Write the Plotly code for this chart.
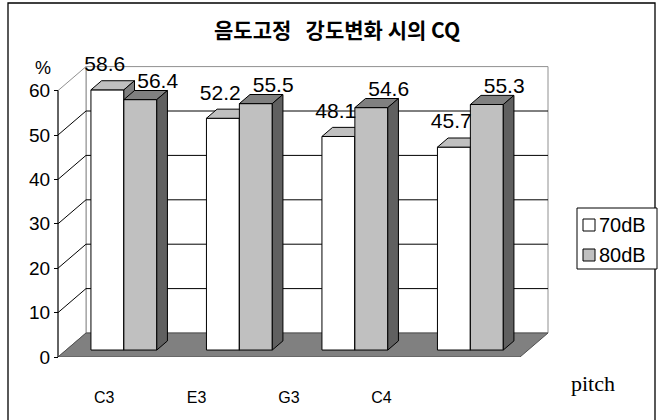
import plotly.graph_objects as go

# ---- data ----
categories = ["C3", "E3", "G3", "C4"]
series_names = ["70dB", "80dB"]
values_70 = [58.6, 52.2, 48.1, 45.7]
values_80 = [56.4, 55.5, 54.6, 55.3]
y_ticks = [0, 10, 20, 30, 40, 50, 60]
title_text = "음도고정  강도변화 시의 CQ"

# ---- geometry (pixel calibration of the pseudo-3D frame) ----
W, H = 658, 420
X0PX, CATPX = 58, 115.5      # front-left corner, px per category
Y0PX, UNITPX = 357, 4.44     # front floor, px per value unit
B = H - Y0PX                 # bottom margin


def X(px):
    return (px - X0PX) / CATPX


def Y(py):
    return (Y0PX - py) / UNITPX


def PX(px):
    return px / W


def PY(py):
    return (Y0PX - py) / Y0PX


ncat = len(categories)
ymax = max(y_ticks)
dxD, dyD = 28 / CATPX, 24 / UNITPX        # full depth vector
f0, fb = 0.29, 0.38                        # bar depth start / length
gap, bw = 0.215, 0.285                     # bar gap / width (category units)

fig = go.Figure()


def poly_trace(polys, fill, line_color, lw=1):
    xs, ys = [], []
    for p in polys:
        for (a, b) in p:
            xs.append(a)
            ys.append(b)
        xs.append(p[0][0]); ys.append(p[0][1])
        xs.append(None); ys.append(None)
    fig.add_trace(go.Scatter(x=xs, y=ys, mode="lines", fill="toself",
                             fillcolor=fill, line=dict(color=line_color, width=lw),
                             hoverinfo="skip", showlegend=False))


def line_trace(segs, color, lw=1):
    xs, ys = [], []
    for s in segs:
        for (a, b) in s:
            xs.append(a); ys.append(b)
        xs.append(None); ys.append(None)
    fig.add_trace(go.Scatter(x=xs, y=ys, mode="lines",
                             line=dict(color=color, width=lw),
                             hoverinfo="skip", showlegend=False))


# walls
poly_trace([[(dxD, dyD), (ncat + dxD, dyD), (ncat + dxD, dyD + ymax), (dxD, dyD + ymax)]],
           "white", "#909090")
poly_trace([[(0, 0), (dxD, dyD), (dxD, dyD + ymax), (0, ymax)]], "white", "#909090")
# gridlines
grid = [[(0, v), (dxD, dyD + v), (ncat + dxD, dyD + v)] for v in y_ticks[1:-1]]
line_trace(grid, "black", 1)
# floor
poly_trace([[(0, 0), (ncat, 0), (ncat + dxD, dyD), (dxD, dyD)]], "#808080", "#505050")
# front axis line
line_trace([[(0, 0), (0, ymax)]], "black", 1)

# bars
ddx, ddy = fb * dxD, fb * dyD
base = f0 * dyD
styles = [("white", "#c0c0c0", "#808080"), ("#c0c0c0", "#808080", "#606060")]
for s, vals in enumerate([values_70, values_80]):
    fronts, tops, sides = [], [], []
    for i, v in enumerate(vals):
        x0 = i + gap + s * bw + f0 * dxD
        x1 = x0 + bw
        t = v + base
        fronts.append([(x0, base), (x1, base), (x1, t), (x0, t)])
        tops.append([(x0, t), (x1, t), (x1 + ddx, t + ddy), (x0 + ddx, t + ddy)])
        sides.append([(x1, base), (x1 + ddx, base + ddy), (x1 + ddx, t + ddy), (x1, t)])
    fc, tc, sc = styles[s]
    poly_trace(fronts, fc, "black")
    poly_trace(tops, tc, "black")
    poly_trace(sides, sc, "black")

# value labels
lab_dx = [-8 / CATPX, 12 / CATPX]
lab_dy = [24 / UNITPX, 17 / UNITPX]
for s, vals in enumerate([values_70, values_80]):
    xs = [i + gap + s * bw + f0 * dxD + bw / 2 + ddx / 2 + lab_dx[s] for i in range(ncat)]
    ys = [v + base + lab_dy[s] for v in vals]
    fig.add_trace(go.Scatter(x=xs, y=ys, mode="text", text=[f"{v:.1f}" for v in vals],
                             textposition="middle center",
                             textfont=dict(family="Liberation Sans, Arial", size=21, color="black"),
                             hoverinfo="skip", showlegend=False, cliponaxis=False))

# annotations
ann = [
    dict(text="<b>" + title_text.replace("  ", " &nbsp; ") + "</b>", x=PX(337), y=PY(29),
         font=dict(family="Noto Sans CJK KR", size=21, color="black"),
         xanchor="center", yanchor="middle"),
    dict(text="%", x=PX(43), y=PY(68), font=dict(family="Liberation Sans, Arial", size=18,
         color="black"), xanchor="center", yanchor="middle"),
    dict(text="pitch", x=PX(593), y=PY(383), font=dict(family="Liberation Serif, Times New Roman",
         size=22, color="black"), xanchor="center", yanchor="middle"),
]
leg_y = [225, 255]
leg_fill = ["white", "#c0c0c0"]
shapes = [
    dict(type="rect", xref="paper", yref="paper", x0=PX(8), x1=PX(655), y0=PY(3), y1=PY(425),
         line=dict(color="black", width=1.3), fillcolor="rgba(0,0,0,0)", layer="above"),
    dict(type="rect", xref="paper", yref="paper", x0=PX(577), x1=PX(657), y0=PY(208), y1=PY(269),
         line=dict(color="black", width=1), fillcolor="white", layer="above"),
]
for k, name in enumerate(series_names):
    cy = leg_y[k]
    shapes.append(dict(type="rect", xref="paper", yref="paper", x0=PX(583), x1=PX(595),
                       y0=PY(cy - 6), y1=PY(cy + 6), line=dict(color="black", width=1),
                       fillcolor=leg_fill[k], layer="above"))
    ann.append(dict(text=name, x=PX(597), y=PY(cy), xanchor="left", yanchor="middle",
                    font=dict(family="Liberation Sans, Arial", size=20, color="black")))
for a in ann:
    a.update(xref="paper", yref="paper", showarrow=False)

fig.update_layout(
    width=W, height=H, margin=dict(l=0, r=0, t=0, b=B),
    paper_bgcolor="white", plot_bgcolor="white",
    xaxis=dict(range=[X(0), X(W)], showgrid=False, zeroline=False, showline=False,
               tickmode="array", tickvals=[(k + 0.5) * ncat / (ncat + 1) for k in range(ncat)],
               ticktext=categories, ticks="outside", ticklen=26, tickcolor="rgba(0,0,0,0)",
               tickfont=dict(family="Liberation Sans, Arial", size=16, color="black"),
               fixedrange=True),
    yaxis=dict(range=[0, Y(0)], showgrid=False, zeroline=False, showline=False,
               anchor="free", position=PX(X0PX), side="left",
               tickmode="array", tickvals=y_ticks, ticks="outside", ticklen=4,
               tickcolor="black", tickfont=dict(family="Liberation Sans, Arial", size=19,
                                                color="black"), fixedrange=True),
    annotations=ann, shapes=shapes, showlegend=False,
)

fig.write_html("out.html")
